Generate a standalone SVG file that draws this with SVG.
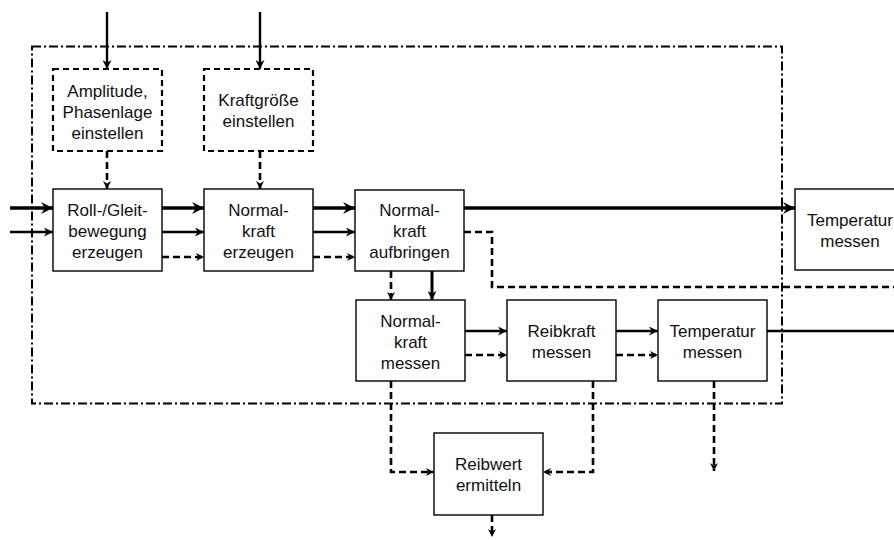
<svg xmlns="http://www.w3.org/2000/svg" width="894" height="540" viewBox="0 0 894 540">
<style>
.box{fill:#fff;stroke:#000;stroke-width:1.4}
.dbox{fill:#fff;stroke:#000;stroke-width:2.2;stroke-dasharray:6,4}
.frame{fill:none;stroke:#000;stroke-width:2;stroke-dasharray:9,3,2,3}
.t{font-family:"Liberation Sans",Arial,sans-serif;font-size:17px;fill:#111;text-anchor:middle}
.thick{fill:none;stroke:#000;stroke-width:3.6}
.thin{fill:none;stroke:#000;stroke-width:2.4}
.dash{fill:none;stroke:#000;stroke-width:2.6;stroke-dasharray:7,4}
</style>
<defs>
<marker id="aThick" viewBox="0 0 12 12" refX="12" refY="6" markerWidth="12" markerHeight="12" markerUnits="userSpaceOnUse" orient="auto"><path d="M0,0 L12,6 L0,12 L4,6 z" fill="#000"/></marker>
<marker id="aThin" viewBox="0 0 10 10" refX="10" refY="5" markerWidth="9" markerHeight="9" markerUnits="userSpaceOnUse" orient="auto"><path d="M0,0 L10,5 L0,10 L3,5 z" fill="#000"/></marker>
<marker id="aDash" viewBox="0 0 10 10" refX="10" refY="5" markerWidth="8" markerHeight="8" markerUnits="userSpaceOnUse" orient="auto"><path d="M0,0 L10,5 L0,10 L3,5 z" fill="#000"/></marker>
</defs>
<rect class="frame" x="32" y="46.5" width="750" height="357"/>
<g id="connectors">
<path class="thin" d="M107,12 V69" marker-end="url(#aThin)"/>
<path class="thin" d="M260,12 V69" marker-end="url(#aThin)"/>
<path class="dash" d="M107,151 V189" marker-end="url(#aDash)"/>
<path class="dash" d="M260,151 V189" marker-end="url(#aDash)"/>
<path class="thick" d="M10,208 H53" marker-end="url(#aThick)"/>
<path class="thin" d="M10,232 H53" marker-end="url(#aThin)"/>
<path class="thick" d="M162,208 H204" marker-end="url(#aThick)"/>
<path class="thin" d="M162,232 H204" marker-end="url(#aThin)"/>
<path class="dash" d="M162,257 H204" marker-end="url(#aDash)"/>
<path class="thick" d="M313,208 H355" marker-end="url(#aThick)"/>
<path class="thin" d="M313,232 H355" marker-end="url(#aThin)"/>
<path class="dash" d="M313,257 H355" marker-end="url(#aDash)"/>
<path class="thick" d="M464,208 H795" marker-end="url(#aThick)"/>
<path class="dash" d="M464,232 H492 V287 H894"/>
<path class="dash" d="M391,271 V300" marker-end="url(#aDash)"/>
<path class="thin" d="M432,271 V300" style="stroke-width:3" marker-end="url(#aThin)"/>
<path class="thin" d="M465,331 H507" marker-end="url(#aThin)"/>
<path class="dash" d="M465,355 H507" marker-end="url(#aDash)"/>
<path class="thin" d="M616,331 H658" marker-end="url(#aThin)"/>
<path class="dash" d="M616,355 H658" marker-end="url(#aDash)"/>
<path class="thin" d="M767,331 H894"/>
<path class="dash" d="M714,381 V471" marker-end="url(#aDash)"/>
<path class="dash" d="M391,381 V472 H434" marker-end="url(#aDash)"/>
<path class="dash" d="M593,381 V472 H543" marker-end="url(#aDash)"/>
<path class="dash" d="M492,515 V537" marker-end="url(#aDash)"/>
</g>
<g id="amplitude">
<rect class="dbox" x="53" y="69" width="109" height="82"/>
<text class="t" x="107.5" y="97">Amplitude,</text>
<text class="t" x="107.5" y="118">Phasenlage</text>
<text class="t" x="107.5" y="139">einstellen</text>
</g>
<g id="kraftgroesse">
<rect class="dbox" x="204" y="69" width="109" height="82"/>
<text class="t" x="258.5" y="106">Kraftgröße</text>
<text class="t" x="258.5" y="127">einstellen</text>
</g>
<g id="roll">
<rect class="box" x="53" y="189" width="109" height="82"/>
<text class="t" x="107.5" y="216">Roll-/Gleit-</text>
<text class="t" x="107.5" y="237">bewegung</text>
<text class="t" x="107.5" y="258">erzeugen</text>
</g>
<g id="normal-erzeugen">
<rect class="box" x="204" y="189" width="109" height="82"/>
<text class="t" x="258.5" y="216">Normal-</text>
<text class="t" x="258.5" y="237">kraft</text>
<text class="t" x="258.5" y="258">erzeugen</text>
</g>
<g id="normal-aufbringen">
<rect class="box" x="355" y="190" width="109" height="81"/>
<text class="t" x="409.5" y="216">Normal-</text>
<text class="t" x="409.5" y="237">kraft</text>
<text class="t" x="409.5" y="258">aufbringen</text>
</g>
<g id="temperatur-rechts">
<rect class="box" x="795" y="189" width="110" height="81"/>
<text class="t" x="850" y="226">Temperatur</text>
<text class="t" x="850" y="247">messen</text>
</g>
<g id="normal-messen">
<rect class="box" x="356" y="300" width="109" height="81"/>
<text class="t" x="410.5" y="327">Normal-</text>
<text class="t" x="410.5" y="348">kraft</text>
<text class="t" x="410.5" y="369">messen</text>
</g>
<g id="reibkraft">
<rect class="box" x="507" y="300" width="109" height="81"/>
<text class="t" x="561.5" y="337">Reibkraft</text>
<text class="t" x="561.5" y="358">messen</text>
</g>
<g id="temperatur-mitte">
<rect class="box" x="658" y="300" width="109" height="81"/>
<text class="t" x="712.5" y="337">Temperatur</text>
<text class="t" x="712.5" y="358">messen</text>
</g>
<g id="reibwert">
<rect class="box" x="434" y="433" width="109" height="82"/>
<text class="t" x="488.5" y="470">Reibwert</text>
<text class="t" x="488.5" y="491">ermitteln</text>
</g>
</svg>
